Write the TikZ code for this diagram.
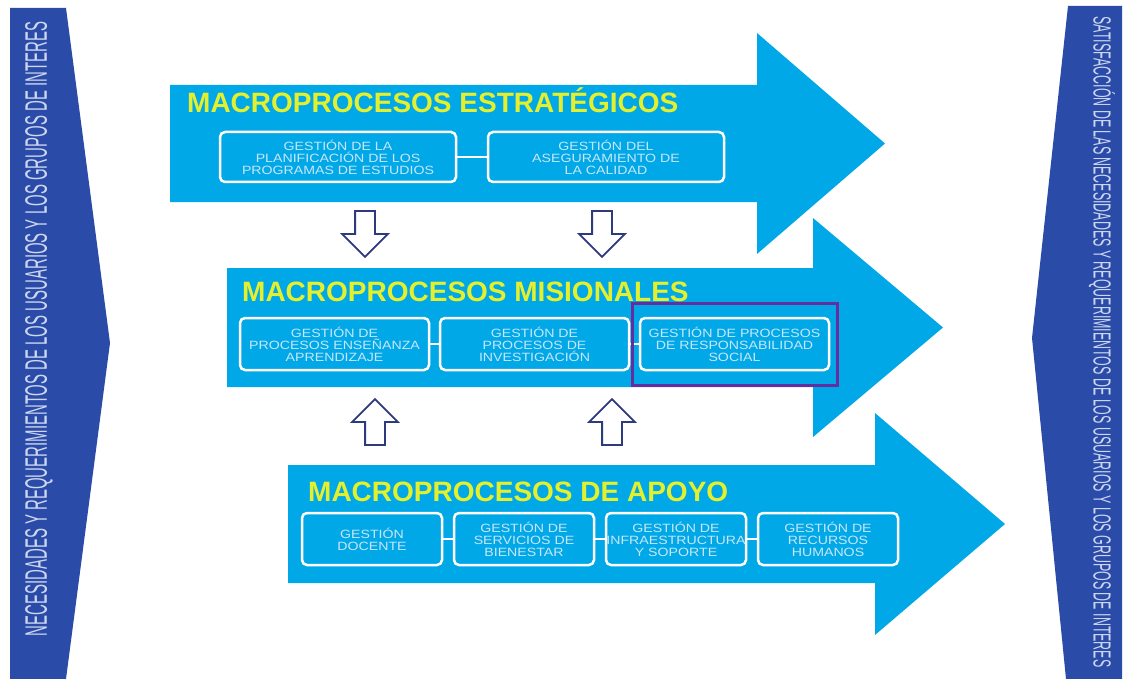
\documentclass[tikz,border=0pt]{standalone}
\usepackage{fontspec}
\setmainfont{Liberation Sans}
\newfontfamily\boxfont[FakeStretch=1.18]{Liberation Sans}
\usetikzlibrary{shapes,arrows,positioning,fit}

\definecolor{bandblue}{RGB}{0,168,232}
\definecolor{sideblue}{RGB}{43,75,168}
\definecolor{sidetext}{RGB}{205,215,240}
\definecolor{titleyellow}{RGB}{228,240,45}
\definecolor{boxtext}{RGB}{200,230,248}
\definecolor{arrownavy}{RGB}{45,58,125}
\definecolor{focuspurple}{RGB}{100,45,160}

\begin{document}
\begin{tikzpicture}
[x=1pt,y=-1pt,
band/.style={fill=bandblue},
side/.style={fill=sideblue},
title/.style={anchor=base west,inner sep=0,text=titleyellow,font=\fontsize{28}{30}\selectfont\bfseries},
block/.style={draw=white,line width=2.5pt,rounded corners=5pt,text=boxtext,align=center,inner sep=0,outer sep=0,font=\boxfont\fontsize{12}{12}\selectfont},
link/.style={draw=white,line width=2.5pt},
hollow/.style={single arrow,draw=arrownavy,fill=white,line width=1.8pt,minimum height=46pt,inner xsep=9pt,inner ysep=0pt,single arrow head extend=13pt},
focusbox/.style={draw=focuspurple,line width=3pt,inner xsep=8pt,inner ysep=15pt}]
\useasboundingbox[fill=white] (0,0) rectangle (1126,679);
%%
\fill[band] (170,85) -- (757,85) -- (757,33) -- (885,143.5) -- (757,254) -- (757,202) -- (170,202) -- cycle;
\fill[band] (227,268) -- (813,268) -- (813,218) -- (943,327.5) -- (813,437) -- (813,387) -- (227,387) -- cycle;
\fill[band] (288,465) -- (875,465) -- (875,413) -- (1005,524) -- (875,635) -- (875,583) -- (288,583) -- cycle;
%%
\fill[side] (10,8) -- (66,8) -- (110,343) -- (66,679) -- (10,679) -- cycle;
\fill[side] (1068,6) -- (1122,6) -- (1122,679) -- (1066,679) -- (1032,338) -- cycle;
\node (needs) [rotate=90,text=sidetext,inner sep=0] at (39,329) {\resizebox{614pt}{21.7pt}{NECESIDADES Y REQUERIMIENTOS DE LOS USUARIOS Y LOS GRUPOS DE INTERES}};
\node (satisf) [rotate=-90,text=sidetext,inner sep=0] at (1102,342) {\resizebox{651pt}{17pt}{\vphantom{E}\smash{SATISFACCIÓN DE LAS NECESIDADES Y REQUERIMIENTOS DE LOS USUARIOS Y LOS GRUPOS DE INTERES}}};
%%
\node (strat) [title] at (187,113) {MACROPROCESOS ESTRATÉGICOS};
\node (sA) [block,minimum width=236pt,minimum height=50pt] at (338,157) {GESTIÓN DE LA\\PLANIFICACIÓN DE LOS\\PROGRAMAS DE ESTUDIOS};
\node (sB) [block,minimum width=236pt,minimum height=50pt,right=32pt of sA] {GESTIÓN DEL\\ASEGURAMIENTO DE\\LA CALIDAD};
\draw[link] (sA) -- (sB);
%%
\node (mision) [title] at (242,301) {MACROPROCESOS MISIONALES};
\node (mA) [block,minimum width=189pt,minimum height=52pt] at (334.5,344) {GESTIÓN DE\\PROCESOS ENSEÑANZA\\APRENDIZAJE};
\node (mB) [block,minimum width=189pt,minimum height=52pt,right=11pt of mA] {GESTIÓN DE\\PROCESOS DE\\INVESTIGACIÓN};
\node (mC) [block,minimum width=189pt,minimum height=52pt,right=11pt of mB] {GESTIÓN DE PROCESOS\\DE RESPONSABILIDAD\\SOCIAL};
\draw[link] (mA) -- (mB);
\draw[link] (mB) -- (mC);
\node (focus) [focusbox,fit=(mC)] {};
%%
\node (apoyo) [title] at (308,501) {MACROPROCESOS DE APOYO};
\node (aA) [block,minimum width=140pt,minimum height=52pt] at (372,539) {GESTIÓN\\DOCENTE};
\node (aB) [block,minimum width=140pt,minimum height=52pt,right=12pt of aA] {GESTIÓN DE\\SERVICIOS DE\\BIENESTAR};
\node (aC) [block,minimum width=140pt,minimum height=52pt,right=12pt of aB] {GESTIÓN DE\\INFRAESTRUCTURA\\Y SOPORTE};
\node (aD) [block,minimum width=140pt,minimum height=52pt,right=12pt of aC] {GESTIÓN DE\\RECURSOS\\HUMANOS};
\draw[link] (aA) -- (aB);
\draw[link] (aB) -- (aC);
\draw[link] (aC) -- (aD);
%%
\node (downA) [hollow,shape border rotate=270] at (365,229) {};
\node (downB) [hollow,shape border rotate=270] at (602,229) {};
\node (upA) [hollow,shape border rotate=90] at (375,427) {};
\node (upB) [hollow,shape border rotate=90] at (612,427) {};
%%
\end{tikzpicture}
\end{document}
